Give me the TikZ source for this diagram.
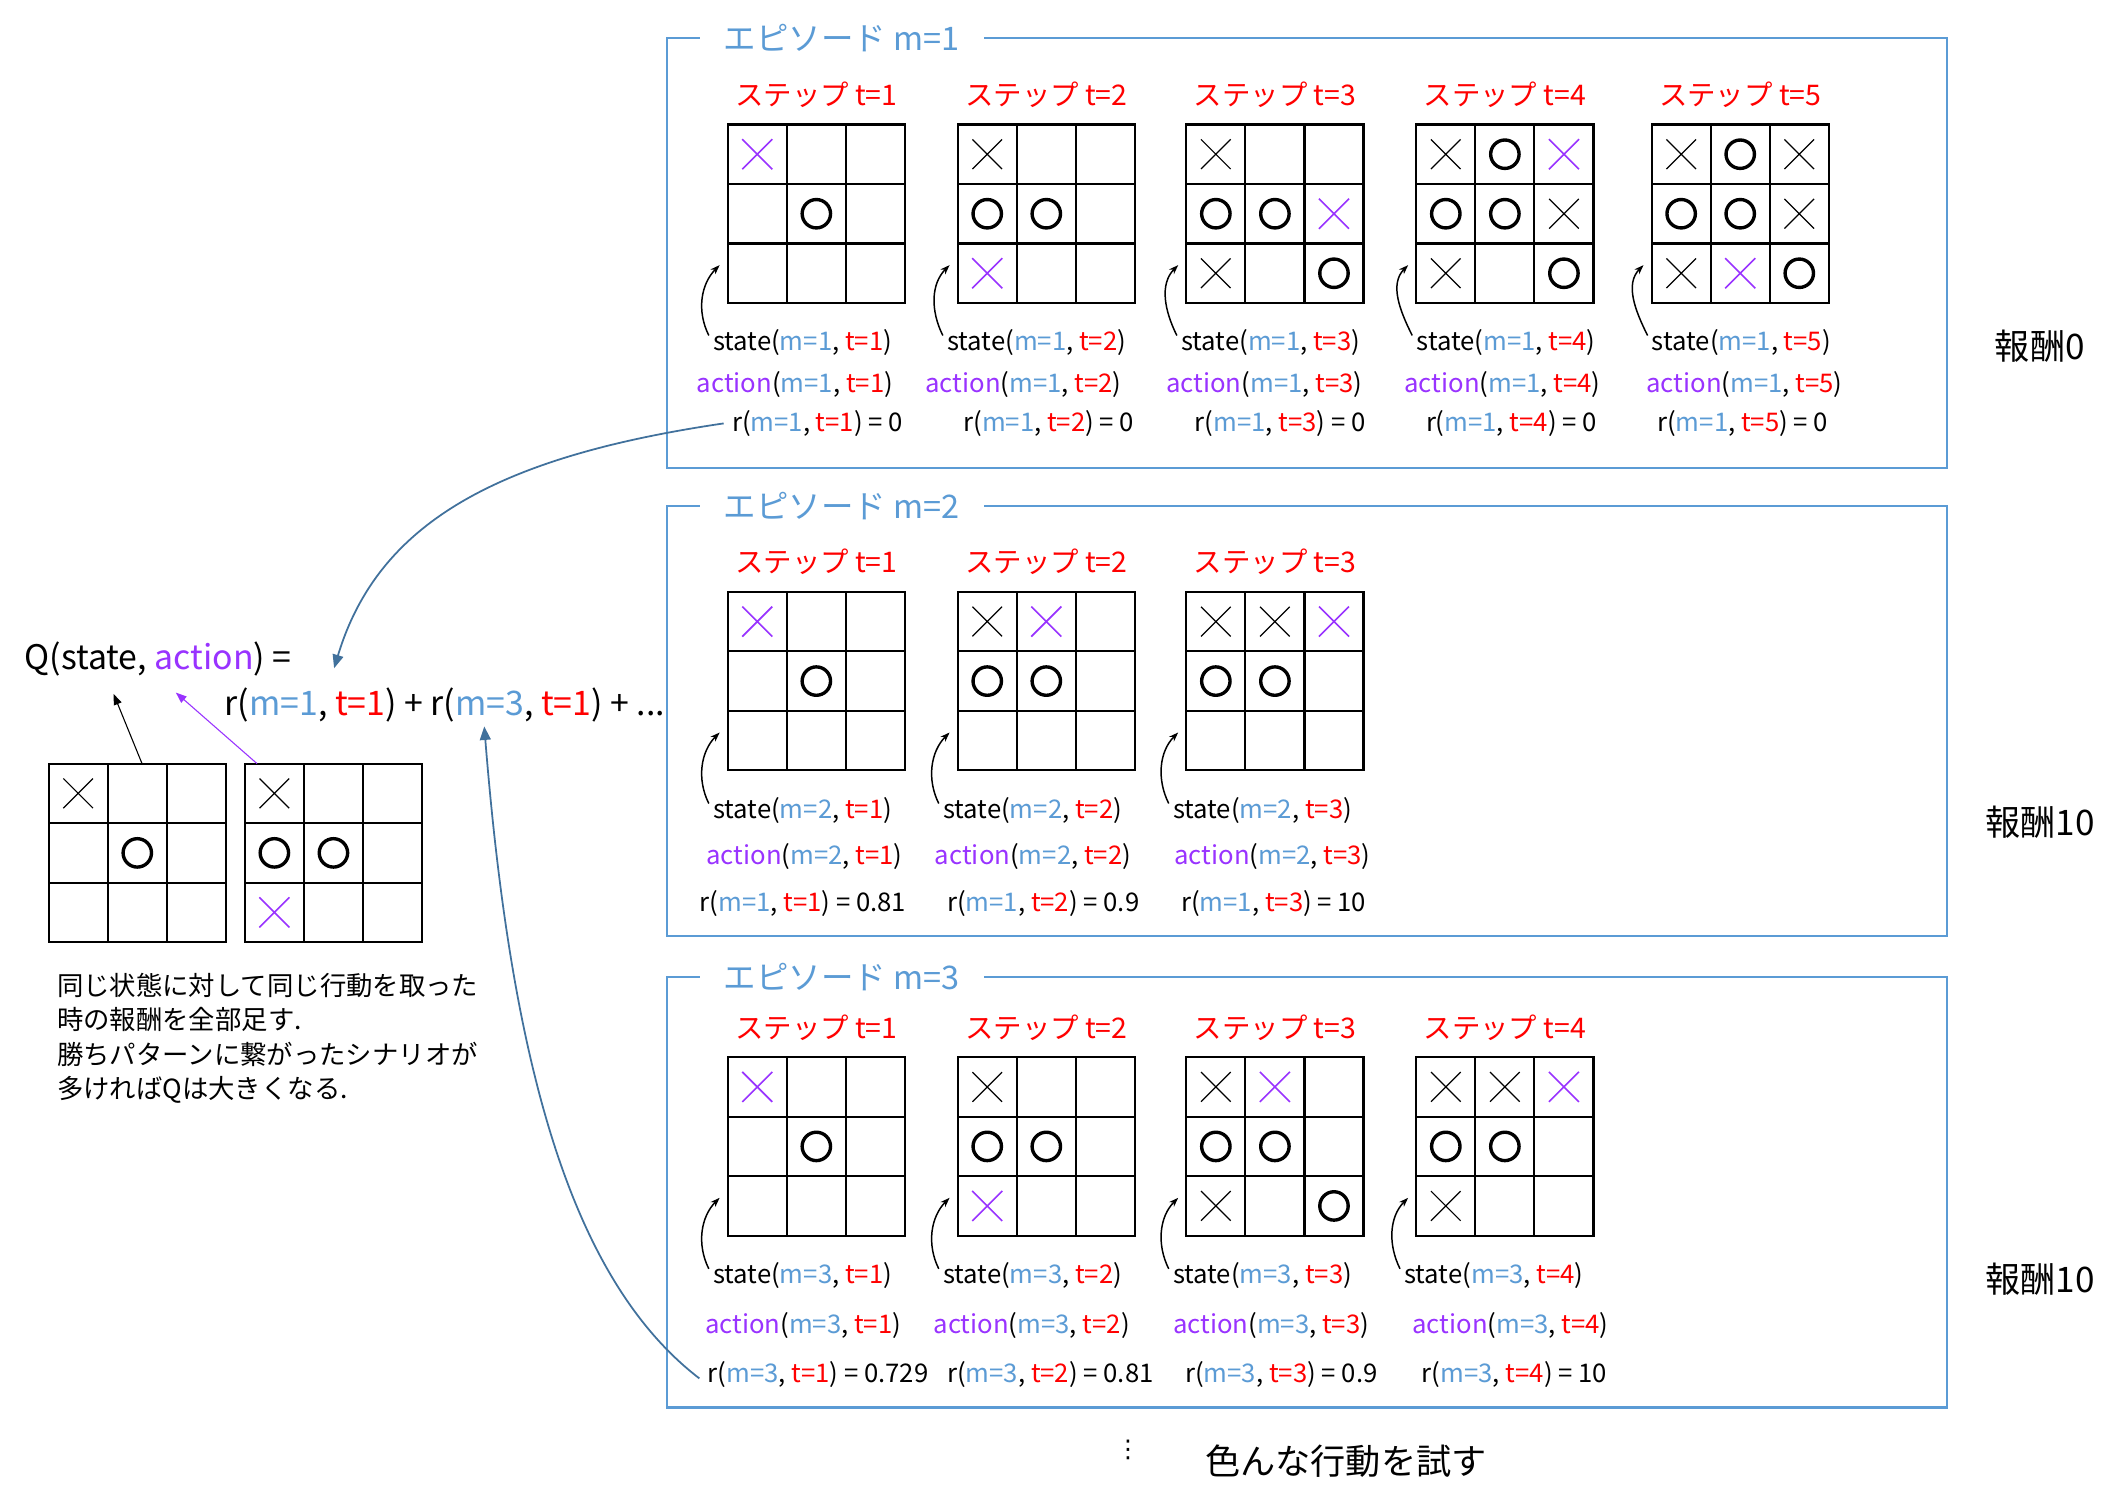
\documentclass[tikz,border=0pt]{standalone}
\usepackage{fontspec}
\setmainfont{Noto Sans CJK JP}
\newfontfamily\symfont{DejaVu Sans}
\usetikzlibrary{positioning}
\usetikzlibrary{calc}
\usetikzlibrary{arrows.meta}
\usetikzlibrary{shapes.misc}

\definecolor{epblue}{RGB}{91,155,213}
\definecolor{arrblue}{RGB}{65,113,156}
\definecolor{stepred}{RGB}{255,0,0}
\definecolor{actpurple}{RGB}{153,51,255}

\newcommand{\mv}[1]{\textcolor{epblue}{m=#1}}
\newcommand{\tv}[1]{\textcolor{stepred}{t=#1}}
\newcommand{\act}{\textcolor{actpurple}{action}}

% one tic-tac-toe board: name, centre, marks (kind/column/row)
\newcommand{\tttboard}[3]{%
  \node[board] (#1) at (#2) {};
  \foreach \k in {1,2} {
    \draw[gridline] ($(#1.north west)!\k/3!(#1.north east)$) -- ($(#1.south west)!\k/3!(#1.south east)$);
    \draw[gridline] ($(#1.north west)!\k/3!(#1.south west)$) -- ($(#1.north east)!\k/3!(#1.south east)$);
  }
  \foreach \s/\c/\r in {#3}
    \node[mark\s] (#1-\c\r) at ($(#1.north west)+({(\c-0.5)*131/3},{(\r-0.5)*132/3})$) {};
}

\begin{document}
\begin{tikzpicture}[x=1pt, y=-1pt,
  board/.style={draw, line width=1.6pt, minimum width=131, minimum height=132, inner sep=0, outer sep=0},
  gridline/.style={line width=1.6pt},
  markx/.style={cross out, draw=black, line width=0.9pt, minimum size=21, inner sep=0},
  markp/.style={cross out, draw=actpurple, line width=1.2pt, minimum size=21, inner sep=0},
  marko/.style={circle, draw=black, line width=2.5pt, minimum size=21, inner sep=0},
  epframe/.style={draw=epblue, line width=1.5pt, minimum width=946, minimum height=318, inner sep=0, outer sep=0},
  eptitle/.style={fill=white, text=epblue, inner xsep=18pt, anchor=west, font=\fontsize{24}{28}\selectfont},
  steptitle/.style={text=stepred, font=\fontsize{21}{25}\selectfont},
  lbl/.style={anchor=west, inner sep=0, font=\fontsize{19}{23}\selectfont},
  reward/.style={font=\fontsize{26}{30}\selectfont},
  bigtxt/.style={anchor=west, inner sep=0, font=\fontsize{25}{30}\selectfont},
  note/.style={anchor=north west, align=left, inner sep=0, font=\fontsize{19.5}{25.5}\selectfont},
  statearrow/.style={-{Stealth[length=7pt, width=5pt]}, line width=1.1pt},
  qarrow/.style={-{Triangle[length=10pt, width=8pt]}, line width=1.3pt, arrblue},
  pick/.style={-{Triangle[length=8pt, width=6pt]}, line width=0.8pt}
]
\fill[white] (0,0) rectangle (1568,1112);
\useasboundingbox (0,0) rectangle (1568,1112);

% Episodes
\node[epframe] (ep1) at (966,187) {};
\node[epframe] (ep2) at (966,533) {};
\node[epframe] (ep3) at (966,881.5) {};
\node[eptitle] (ep1t) at ([xshift=24pt]ep1.north west) {エピソード m=1};
\node[eptitle] (ep2t) at ([xshift=24pt]ep2.north west) {エピソード m=2};
\node[eptitle] (ep3t) at ([xshift=24pt]ep3.north west) {エピソード m=3};

% Boards, episode 1
\tttboard{b11}{603.5,158}{p/1/1, o/2/2}
\tttboard{b12}{773.5,158}{x/1/1, o/1/2, o/2/2, p/1/3}
\tttboard{b13}{942.5,158}{x/1/1, o/1/2, o/2/2, p/3/2, x/1/3, o/3/3}
\tttboard{b14}{1112.5,158}{x/1/1, o/2/1, p/3/1, o/1/2, o/2/2, x/3/2, x/1/3, o/3/3}
\tttboard{b15}{1286.5,158}{x/1/1, o/2/1, x/3/1, o/1/2, o/2/2, x/3/2, x/1/3, p/2/3, o/3/3}
% Boards, episode 2
\tttboard{b21}{603.5,503.5}{p/1/1, o/2/2}
\tttboard{b22}{773.5,503.5}{x/1/1, p/2/1, o/1/2, o/2/2}
\tttboard{b23}{942.5,503.5}{x/1/1, x/2/1, p/3/1, o/1/2, o/2/2}
% Boards, episode 3
\tttboard{b31}{603.5,847.5}{p/1/1, o/2/2}
\tttboard{b32}{773.5,847.5}{x/1/1, o/1/2, o/2/2, p/1/3}
\tttboard{b33}{942.5,847.5}{x/1/1, p/2/1, o/1/2, o/2/2, x/1/3, o/3/3}
\tttboard{b34}{1112.5,847.5}{x/1/1, x/2/1, p/3/1, o/1/2, o/2/2, x/1/3}

% Step titles
\foreach \n/\t in {11/1, 12/2, 13/3, 14/4, 15/5, 21/1, 22/2, 23/3, 31/1, 32/2, 33/3, 34/4}
  \node[steptitle] (st\n) at ([yshift=22pt]b\n.north) {ステップ t=\t};

% Labels under the boards
\foreach \t/\xs/\xa/\xr in {1/527/515/541, 2/700/684/712, 3/873/862/883, 4/1047/1038/1054, 5/1221/1217/1225} {
  \node[lbl] (sl1\t) at (\xs,253) {state(\mv{1}, \tv{\t})};
  \node[lbl] (al1\t) at (\xa,284) {\act(\mv{1}, \tv{\t})};
  \node[lbl] (rl1\t) at (\xr,313) {r(\mv{1}, \tv{\t}) = 0};
}
\foreach \t/\xs/\xa/\xr/\rv in {1/527/522/517/0.81, 2/697/691/700/0.9, 3/867/868/873/10} {
  \node[lbl] (sl2\t) at (\xs,599) {state(\mv{2}, \tv{\t})};
  \node[lbl] (al2\t) at (\xa,633) {\act(\mv{2}, \tv{\t})};
  \node[lbl] (rl2\t) at (\xr,668) {r(\mv{1}, \tv{\t}) = \rv};
}
\foreach \t/\xs/\xa/\xr/\rv in {1/527/521/523/0.729, 2/697/690/700/0.81, 3/867/867/876/0.9, 4/1038/1044/1051/10} {
  \node[lbl] (sl3\t) at (\xs,943) {state(\mv{3}, \tv{\t})};
  \node[lbl] (al3\t) at (\xa,980) {\act(\mv{3}, \tv{\t})};
  \node[lbl] (rl3\t) at (\xr,1016) {r(\mv{3}, \tv{\t}) = \rv};
}

% Rewards
\node[reward] (rw1) at (1508,256) {報酬0};
\node[reward] (rw2) at (1508,608) {報酬10};
\node[reward] (rw3) at (1508,946) {報酬10};

% Q value
\node[bigtxt] (qeq) at (18,487) {Q(state, \act) =};
\node[bigtxt] (rsum) at (166,521) {r(\mv{1}, \tv{1}) + r(\mv{3}, \tv{1}) + ...};
\tttboard{bA}{101.5,630.5}{x/1/1, o/2/2}
\tttboard{bB}{246.5,630.5}{x/1/1, o/1/2, o/2/2, p/1/3}
\coordinate (qs) at (84,513);
\coordinate (qa) at (130,512);
\coordinate (qt1) at (247,494);
\coordinate (qt2) at (358,537);
\node[note] (note) at (42,719) {同じ状態に対して同じ行動を取った\\時の報酬を全部足す.\\勝ちパターンに繋がったシナリオが\\多ければQは大きくなる.};

% Bottom
\node[font=\symfont\fontsize{18}{22}\selectfont] (dots) at (834,1072) {⋮};
\node[reward] (try) at (995,1080) {色んな行動を試す};

% Edges
\foreach \n in {11,12,13,14,15,21,22,23,31,32,33,34}
  \draw[statearrow] ([xshift=-3pt, yshift=5pt]sl\n.west) .. controls +(-9,-18) and +(-14,14) .. ([xshift=-6pt, yshift=28pt]b\n.south west);
\draw[pick] ([xshift=3.5pt]bA.north) -- (qs);
\draw[pick, actpurple] ([xshift=9pt]bB.north west) -- (qa);
\draw[qarrow] ([xshift=-6pt]rl11.west) .. controls +(-170,25) and +(32,-106) .. (qt1);
\draw[qarrow] ([xshift=-6pt, yshift=-3pt]rl31.west) .. controls +(-95,-73) and +(20,250) .. (qt2);

\end{tikzpicture}
\end{document}
